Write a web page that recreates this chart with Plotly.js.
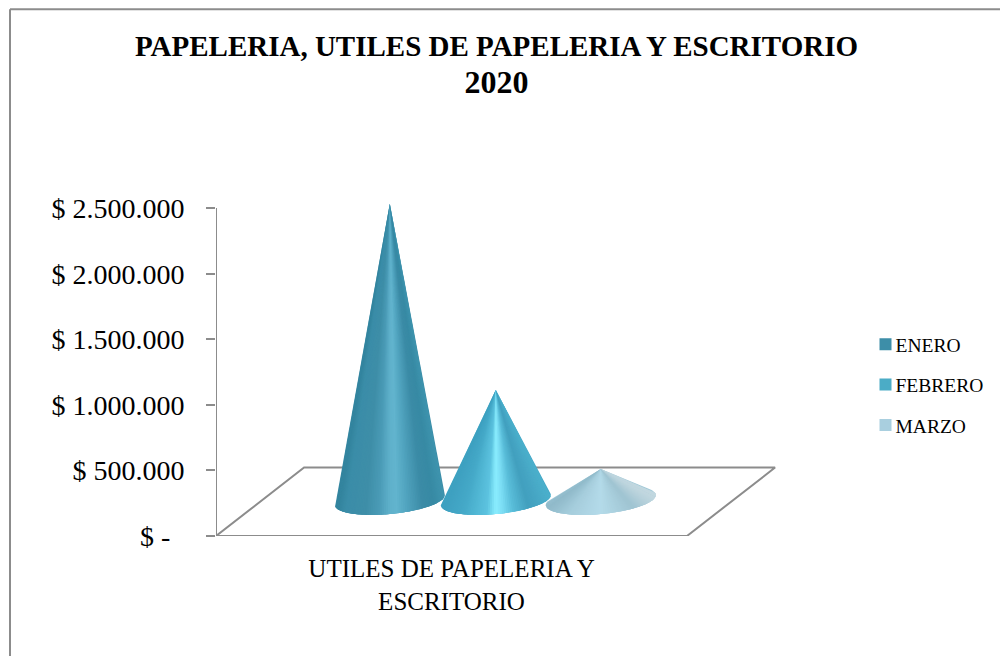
<!DOCTYPE html>
<html>
<head>
<meta charset="utf-8">
<script src="https://cdn.plot.ly/plotly-3.0.1.min.js"></script>
<style>html,body{margin:0;padding:0;background:#fff;overflow:hidden}#chart{width:1000px;height:656px}</style>
</head>
<body>
<div id="chart"></div>
<script>
const titleLines = ["PAPELERIA, UTILES DE PAPELERIA Y ESCRITORIO", "<span style=\"font-size:32px\">2020</span>"];
const categoryLabel = ["UTILES DE PAPELERIA Y", "ESCRITORIO"];
const seriesNames = ["ENERO", "FEBRERO", "MARZO"];
const seriesValues = [2260000, 840000, 236000];
const tickValues = [0, 500000, 1000000, 1500000, 2000000, 2500000];
const tickLabels = ["$ -\u00a0\u00a0", "$ 500.000", "$ 1.000.000", "$ 1.500.000", "$ 2.000.000", "$ 2.500.000"];
const legendColors = ["#3d8ea8", "#4bacc6", "#a9cfdf"];
const coneCenters = [0.369, 0.594, 0.817];
const shades = [
  [[0,"#2f8099"],[0.1,"#3b8da8"],[0.28,"#3e8ea8"],[0.4,"#4a9bb6"],[0.5,"#5fb1cb"],[0.56,"#62b4ce"],[0.65,"#52a5c0"],[0.8,"#3b8ba6"],[0.9,"#378aa4"],[1,"#4095af"]],
  [[0,"#3d9fbf"],[0.2,"#45a9c8"],[0.42,"#5cc3df"],[0.5,"#8aeeff"],[0.56,"#7cdef5"],[0.66,"#58bcd8"],[0.8,"#429fbe"],[1,"#4cb0cc"]],
  [[0,"#8fb9c9"],[0.2,"#a5cddc"],[0.5,"#b4dbe9"],[0.8,"#9fc4d2"],[1,"#c3d8e0"]]
];

// Depth model of the 3-D floor, in axis units
const floorDepthX = 0.187, floorDepthY = 522000;
const coneBaseY = 274000, coneRadiusX = 0.1168, coneRadiusY = 107000, coneTiltY = 38000;
const sliceCount = 90;
const axisTop = 2500000, rangeTop = 2600000;

function hexToRgb(h){return [1,3,5].map(i=>parseInt(h.substr(i,2),16));}
function shadeAt(stops,u){
  for(let i=1;i<stops.length;i++){
    if(u<=stops[i][0]){
      const a=stops[i-1],b=stops[i],f=(u-a[0])/(b[0]-a[0]);
      const A=hexToRgb(a[1]),B=hexToRgb(b[1]);
      return "rgb("+A.map((v,k)=>Math.round(v+(B[k]-v)*f)).join(",")+")";
    }
  }
  return stops[stops.length-1][1];
}

const traces = [{
  type:"scatter", mode:"lines", cliponaxis:false, showlegend:false, hoverinfo:"skip",
  x:[0,1,1+floorDepthX,floorDepthX,0],
  y:[0,0,floorDepthY,floorDepthY,0],
  line:{color:"#8c8c8c",width:2}
},{
  type:"scatter", mode:"lines", cliponaxis:false, showlegend:false, hoverinfo:"skip",
  x:[0,0], y:[0,axisTop],
  line:{color:"#8c8c8c",width:2}
}];

seriesValues.forEach((value,s)=>{
  const cx=coneCenters[s], tipY=coneBaseY+value;
  const rim=t=>[cx+coneRadiusX*Math.cos(t), coneBaseY+coneTiltY*Math.cos(t)+coneRadiusY*Math.sin(t)];
  // Silhouette: the rim points with the extreme bearing as seen from the tip
  let tLeft=0,tRight=0,best1=Infinity,best2=-Infinity;
  for(let i=0;i<720;i++){
    const t=i/720*2*Math.PI,p=rim(t);
    const q=(p[0]-cx)/coneRadiusX/(tipY-p[1])*coneRadiusY;
    if(q<best1){best1=q;tLeft=t;}
    if(q>best2){best2=q;tRight=t;}
  }
  if(tRight<tLeft) tRight+=2*Math.PI;
  const span=tRight-tLeft;
  // Solid underlay of the whole cone, so the thin edge slices do not let white through
  const outline=[];
  for(let i=0;i<=sliceCount;i++) outline.push(rim(tLeft+span*i/sliceCount));
  const baseColor=shadeAt(shades[s],0.15);
  traces.push({
    type:"scatter", mode:"lines", fill:"toself", fillcolor:baseColor, cliponaxis:false,
    showlegend:false, hoverinfo:"skip",
    x:[cx].concat(outline.map(p=>p[0]),[cx]), y:[tipY].concat(outline.map(p=>p[1]),[tipY]),
    line:{color:baseColor,width:0}
  });
  for(let i=0;i<sliceCount;i++){
    // each slice overlaps the next one so no seam shows between them
    const t0=tLeft+span*i/sliceCount;
    const t1=tLeft+span*(i+1)/sliceCount;
    const steps=[t0,t1,Math.min(tRight,t1+span/sliceCount)];
    const pts=steps.map(rim);
    const u=Math.min(1,Math.max(0,((rim(t0)[0]+rim(t1)[0])/2-(cx-coneRadiusX))/(2*coneRadiusX)));
    const color=shadeAt(shades[s],u);
    traces.push({
      type:"scatter", mode:"lines", fill:"toself", fillcolor:color, cliponaxis:false,
      showlegend:false, hoverinfo:"skip",
      x:[cx].concat(pts.map(p=>p[0]),[cx]), y:[tipY].concat(pts.map(p=>p[1]),[tipY]),
      line:{color:color,width:0}
    });
  }
});

seriesNames.forEach((name,s)=>{
  traces.push({
    type:"scatter", mode:"markers", name:name, legendgroup:name,
    x:[null], y:[null],
    marker:{symbol:"square",size:12,color:legendColors[s]}
  });
});

const font="'Liberation Serif', serif";
const plotTop=536-328*rangeTop/axisTop, plotH=536-plotTop;
const py=v=>(536-v)/plotH, px=v=>(v-216)/560;
const layout={
  width:1000,height:656,
  margin:{l:216,r:224,t:plotTop,b:120,pad:0,autoexpand:false},
  paper_bgcolor:"#ffffff",plot_bgcolor:"rgba(0,0,0,0)",
  font:{family:font,color:"#000000"},
  title:{text:titleLines.join("<br>"),font:{family:font,size:29,color:"#000000",weight:"bold"},x:0.4965,xanchor:"center",y:0.915,yanchor:"top"},
  showlegend:true,
  legend:{x:px(855.5),xanchor:"left",y:py(325),yanchor:"top",tracegroupgap:12,font:{family:font,size:19.5,color:"#000000"},bgcolor:"rgba(0,0,0,0)",borderwidth:0,itemclick:false,itemdoubleclick:false},
  xaxis:{range:[0,560/471],fixedrange:true,showgrid:false,zeroline:false,showline:false,ticks:"",
    tickmode:"array",tickvals:[0.5],ticktext:[categoryLabel.join("<br>")],tickfont:{family:font,size:25,color:"#000000"},ticklabelstandoff:15},
  yaxis:{range:[0,rangeTop],fixedrange:true,showgrid:false,zeroline:false,showline:false,
    ticks:"outside",ticklen:9,tickwidth:2,tickcolor:"#8c8c8c",
    tickmode:"array",tickvals:tickValues,ticktext:tickLabels,tickfont:{family:font,size:28,color:"#000000"},ticklabelstandoff:16},
  shapes:[
    {type:"line",xref:"paper",yref:"paper",x0:px(10),x1:px(1000),y0:py(9),y1:py(9),line:{color:"#8c8c8c",width:2}},
    {type:"line",xref:"paper",yref:"paper",x0:px(10),x1:px(10),y0:py(9),y1:py(656),line:{color:"#8c8c8c",width:2}}
  ]
};
Plotly.newPlot("chart",traces,layout,{displayModeBar:false}).then(gd=>{
  // legend swatches sit close to their labels in the reference
  gd.querySelectorAll(".legend .legendsymbols").forEach(n=>n.setAttribute("transform","translate(10,0)"));
});
</script>
</body>
</html>
